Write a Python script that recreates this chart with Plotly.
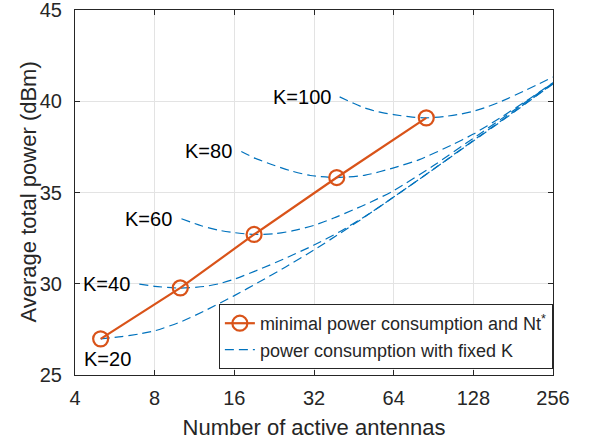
import math
import plotly.graph_objects as go

# ---- data ----
opt_nt = [5, 10, 19, 39, 85]
opt_pow = [26.98, 29.77, 32.70, 35.82, 39.09]

k_labels = ["K=20", "K=40", "K=60", "K=80", "K=100"]

k20_nt = [5, 6, 7, 8, 10, 12.5, 16, 20, 25, 32, 40, 50, 64, 90, 128, 181, 256]
k20_pow = [26.98, 27.1, 27.25, 27.42, 27.9, 28.55, 29.35, 30.12, 30.92, 31.85, 32.75,
           33.68, 34.75, 36.25, 37.82, 39.37, 40.95]

k40_nt = [7, 8, 10, 12.3, 14, 16, 20, 25, 32, 40, 50, 64, 90, 128, 181, 256]
k40_pow = [29.98, 29.86, 29.76, 29.85, 30.0, 30.25, 30.8, 31.4, 32.12, 32.85, 33.7,
           34.75, 36.25, 37.85, 39.4, 40.97]

k60_nt = [10.1, 12, 14, 16, 19, 23, 27, 32, 38, 45, 52, 64, 90, 128, 181, 256]
k60_pow = [33.56, 33.18, 32.93, 32.8, 32.7, 32.75, 32.92, 33.2, 33.6, 34.05, 34.45,
           35.1, 36.45, 37.97, 39.48, 41.0]

k80_nt = [17, 19, 22, 26, 31, 39, 50, 64, 80, 106, 128, 162, 203, 256]
k80_pow = [37.25, 36.9, 36.55, 36.2, 35.93, 35.82, 35.95, 36.35, 36.8, 37.6, 38.2,
           39.1, 40.02, 41.02]

k100_nt = [40, 45, 50, 56, 64, 74, 85, 100, 115, 128, 145, 162, 203, 256]
k100_pow = [40.24, 39.9, 39.62, 39.42, 39.27, 39.14, 39.09, 39.17, 39.3, 39.45, 39.7,
            39.97, 40.62, 41.33]

x_ticks = [4, 8, 16, 32, 64, 128, 256]
y_ticks = [25, 30, 35, 40, 45]

BLUE = "#0072BD"
ORANGE = "#D95319"
AX = "#262626"
FONT = "Liberation Sans, Arial, sans-serif"

fig = go.Figure()

curves = [(k20_nt, k20_pow), (k40_nt, k40_pow), (k60_nt, k60_pow),
          (k80_nt, k80_pow), (k100_nt, k100_pow)]
for i, (nt, pw) in enumerate(curves):
    fig.add_trace(go.Scatter(
        x=nt, y=pw, mode="lines",
        line=dict(color=BLUE, width=1.2, dash="9px,5px", shape="spline", smoothing=0.6),
        name="power consumption with fixed K",
        showlegend=(i == 0), legendrank=2,
    ))

fig.add_trace(go.Scatter(
    x=opt_nt, y=opt_pow, mode="lines+markers",
    line=dict(color=ORANGE, width=2.2),
    marker=dict(symbol="circle-open", size=15, color=ORANGE,
                line=dict(width=2.2, color=ORANGE)),
    name="minimal power consumption and Nt<sup>*</sup>", legendrank=1,
))

# K labels placed next to the start of each curve (log axis -> log10 coords)
for i, (nt, pw) in enumerate(curves):
    if i == 0:
        fig.add_annotation(x=math.log10(nt[0]), y=pw[0], xref="x", yref="y",
                           text=k_labels[i], showarrow=False,
                           xanchor="center", yanchor="middle", xshift=7, yshift=-20,
                           font=dict(family=FONT, size=20, color="#000000"))
    else:
        fig.add_annotation(x=math.log10(nt[0]), y=pw[0], xref="x", yref="y",
                           text=k_labels[i], showarrow=False,
                           xanchor="right", yanchor="middle", xshift=-7, yshift=0,
                           font=dict(family=FONT, size=20, color="#000000"))

# y-axis title as rotated text
fig.add_annotation(x=0, y=0.5, xref="paper", yref="paper",
                   text="Average total power (dBm)", showarrow=False, textangle=-90,
                   xanchor="center", yanchor="middle", xshift=-47,
                   font=dict(family=FONT, size=22, color=AX))

fig.update_xaxes(
    type="log", range=[math.log10(4), math.log10(256)],
    tickvals=x_ticks, ticktext=[str(v) for v in x_ticks],
    showgrid=True, gridcolor="#E3E3E3", gridwidth=1,
    showline=True, linecolor=AX, linewidth=1, mirror="ticks",
    ticks="inside", ticklen=5, tickcolor=AX, ticklabelstandoff=5,
    ticklabeloverflow="allow", automargin=False,
    tickfont=dict(family=FONT, size=20, color=AX),
    title=dict(text="Number of active antennas",
               font=dict(family=FONT, size=22, color=AX), standoff=11),
    zeroline=False,
)
fig.update_yaxes(
    range=[25, 45], tickvals=y_ticks,
    showgrid=True, gridcolor="#E3E3E3", gridwidth=1,
    showline=True, linecolor=AX, linewidth=1, mirror="ticks",
    ticks="inside", ticklen=5, tickcolor=AX, ticklabelstandoff=8,
    ticklabeloverflow="allow", automargin=False,
    tickfont=dict(family=FONT, size=20, color=AX),
    zeroline=False,
)

fig.update_layout(
    width=596, height=445,
    margin=dict(l=75, r=43, t=10, b=70, autoexpand=False),
    paper_bgcolor="white", plot_bgcolor="white",
    font=dict(family=FONT, color=AX),
    legend=dict(
        x=0.301, y=0.0164, xanchor="left", yanchor="bottom",
        bgcolor="white", bordercolor=AX, borderwidth=1,
        font=dict(family=FONT, size=18, color=AX),
        itemwidth=30, tracegroupgap=0,
    ),
)

fig.write_html("out.html", config={"displayModeBar": False},
               post_script="document.body.style.margin='0px';document.body.style.padding='0px';")
